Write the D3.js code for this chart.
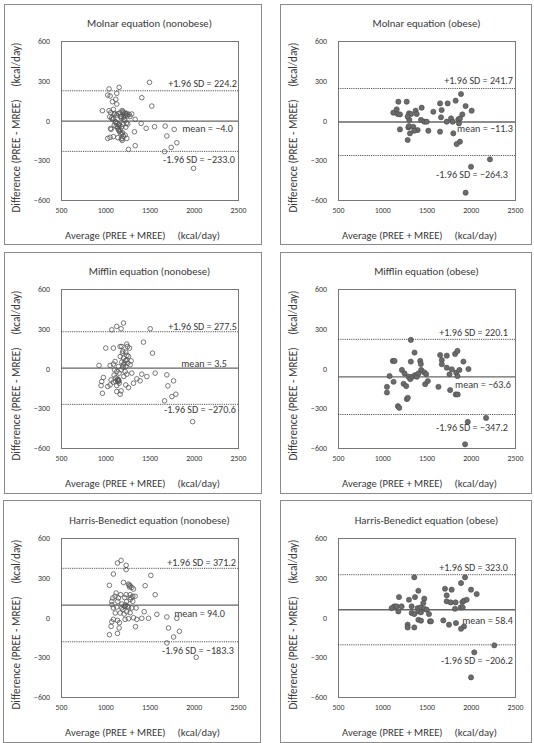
<!DOCTYPE html>
<html><head><meta charset="utf-8">
<script src="https://cdn.jsdelivr.net/npm/d3@7"></script>
<style>
html,body{margin:0;padding:0;background:#fff;}
svg text{font-family:Carlito,Lato,"Liberation Sans",sans-serif;fill:#383838;}
</style></head>
<body><svg id="c" width="534" height="743"></svg>
<script>
const xTicks = [500, 1000, 1500, 2000, 2500];
const yTicks = [600, 300, 0, -300, -600];
const panelTitles = ["Molnar equation (nonobese)", "Molnar equation (obese)", "Mifflin equation (nonobese)", "Mifflin equation (obese)", "Harris-Benedict equation (nonobese)", "Harris-Benedict equation (obese)"];
const meanValues = [-4.0, -11.3, 3.5, -63.6, 94.0, 58.4];
const upperLimits = [224.2, 241.7, 277.5, 220.1, 371.2, 323.0];
const lowerLimits = [-233.0, -264.3, -270.6, -347.2, -183.3, -206.2];
const xTitle = "Average (PREE + MREE)     (kcal/day)";
const yTitle = "Difference (PREE - MREE)     (kcal/day)";

const molnarNonobese = [[1500,288],[1043,238],[1157,250],[1028,192],[1055,185],[1130,205],[1119,160],[1413,172],[1526,109],[1081,142],[1130,124],[968,74],[1043,74],[1062,59],[1092,84],[1111,49],[1130,41],[1168,59],[1206,59],[1225,54],[1243,54],[1270,46],[1300,49],[1338,9],[1179,29],[1081,9],[1119,-9],[1157,-27],[1142,-47],[1168,-72],[1194,-92],[1225,-110],[1066,-67],[1187,-47],[1255,-27],[1330,-85],[1028,-135],[1055,-127],[1092,-122],[1142,-130],[1194,-135],[1243,-135],[1262,-218],[1338,-190],[1406,-22],[1462,-59],[1557,-47],[1677,-42],[1779,-67],[1696,-117],[1809,-168],[1745,-203],[1670,-235],[1998,-361],[1100,50],[1145,52],[1190,75],[1200,68],[1172,30],[1182,18],[1205,24],[1212,8],[1050,28],[1072,20],[1093,12],[1112,-12],[1133,-20],[1152,-32],[1163,-40],[1102,-35],[1122,-45],[1140,-58],[1150,-72],[1160,-82],[1172,-95],[1190,-102],[1205,-118],[1232,-50],[1240,-20],[1200,-30],[1222,2],[1060,-60],[1180,-140],[1192,-150],[1230,40],[1235,48],[1250,35],[1280,30]];
const molnarObese = [[1182,142],[1276,142],[1125,59],[1163,84],[1174,49],[1200,46],[1445,97],[1302,54],[1325,49],[1377,74],[1389,49],[1306,4],[1287,29],[1438,4],[1475,-9],[1502,-9],[1577,66],[1653,129],[1671,79],[1739,129],[1664,24],[1728,-9],[1777,16],[1796,-9],[1829,150],[1890,200],[1942,109],[2010,74],[1860,9],[1878,16],[1905,46],[1867,-22],[1295,-52],[1302,-42],[1351,-47],[1200,-67],[1400,-72],[1313,-97],[1287,-147],[1362,-77],[1521,-77],[1653,-84],[1803,-97],[1878,-160],[1841,-178],[2217,-293],[2003,-349],[1942,-545]];
const mifflinNonobese = [[1206,343],[1130,318],[1074,292],[1179,300],[1508,300],[1432,199],[1534,116],[1006,154],[1092,154],[1168,166],[1187,166],[1243,184],[1251,166],[1274,154],[1194,116],[1232,123],[1262,91],[1206,78],[1243,66],[1292,58],[1187,48],[1111,53],[1092,33],[1055,23],[930,23],[1149,15],[1206,28],[1232,15],[1281,28],[1104,-10],[1130,-23],[1157,-35],[1225,-23],[1243,-43],[1300,-35],[979,-68],[960,-98],[953,-129],[1028,-136],[968,-187],[1066,-86],[1092,-103],[1119,-98],[1149,-93],[1157,-111],[1055,-124],[1130,-129],[1130,-174],[1179,-169],[1168,-194],[1232,-124],[1262,-144],[1319,-111],[1357,-78],[1394,-93],[1413,-43],[1470,-61],[1564,-35],[1696,-48],[1708,-131],[1772,-93],[1798,-194],[1753,-212],[1670,-244],[1987,-401],[1140,-85],[1150,-88],[1145,-80],[1155,-95],[1120,-70],[1100,-50],[1180,-10],[1200,10],[1215,40],[1230,60],[1245,100],[1200,130],[1170,90],[1255,40],[1210,-60]];
const mifflinObese = [[1323,216],[1120,57],[1139,57],[1365,120],[1323,52],[1429,57],[1436,34],[1654,102],[1673,64],[1673,32],[1729,97],[1823,110],[1850,133],[1917,52],[1974,-4],[1729,6],[1786,-6],[1760,-44],[1835,-31],[1850,-57],[1872,-11],[1767,-163],[1830,-196],[1853,-196],[1635,-138],[1083,-57],[1053,-138],[1053,-181],[1128,-100],[1222,-11],[1252,-37],[1241,-115],[1271,-133],[1278,-231],[1289,-221],[1177,-284],[1192,-297],[1297,-62],[1316,-80],[1342,-62],[1372,-49],[1391,-62],[1410,-37],[1440,-11],[1474,-29],[1496,-42],[1485,-118],[1515,-95],[1966,-403],[2173,-373],[1936,-572]];
const hbNonobese = [[1179,431],[1138,411],[1236,394],[1236,361],[1092,328],[1515,318],[1047,243],[1206,265],[1262,252],[1281,240],[1300,227],[1319,215],[1451,240],[1564,172],[1123,185],[1175,172],[1111,160],[1085,147],[1149,147],[1236,172],[1281,172],[1311,160],[1338,160],[1074,122],[1141,122],[1187,102],[1243,122],[1281,135],[1311,122],[1074,97],[1092,72],[1130,79],[1187,72],[1224,84],[1262,77],[1300,72],[1349,72],[1113,34],[1168,34],[1213,26],[1243,44],[1281,36],[1224,-14],[1262,-9],[1092,-14],[1138,-22],[1074,-32],[1160,-39],[1066,-67],[1157,-79],[1047,-130],[1138,-120],[1319,-2],[1357,-14],[1413,-6],[1440,44],[1489,-6],[1583,24],[1696,4],[1809,-6],[1715,-79],[1838,-104],[1772,-147],[1696,-192],[1342,-69],[2028,-300],[1270,245],[1275,230],[1215,85],[1200,60],[1230,95],[1250,85],[1290,150],[1220,150]];
const hbObese = [[1709,217],[1784,210],[1890,260],[1935,303],[2003,210],[2067,177],[1728,167],[1728,122],[1773,114],[1829,114],[1905,117],[1924,127],[1954,134],[1886,76],[1909,76],[1822,66],[1833,-42],[1924,-67],[1890,-85],[1189,154],[1302,134],[1370,154],[1408,202],[1475,142],[1464,109],[1362,303],[1136,84],[1163,84],[1182,46],[1219,84],[1332,84],[1400,71],[1434,76],[1475,66],[1502,59],[1332,34],[1362,26],[1408,46],[1438,39],[1528,26],[1408,-17],[1438,-24],[1539,-29],[1551,-29],[1287,-54],[1287,-75],[1362,-75],[1690,-22],[1754,-54],[1106,71],[2266,-210],[2040,-263],[2003,-452]];

const seriesList = [molnarNonobese, molnarObese, mifflinNonobese, mifflinObese, hbNonobese, hbObese];

// layout (positions / styles)
const layout = [
  {frame:[4,4,261,244],   plot:[61,41,238,200],  filled:false, lab:{up:[-1,-7],mean:[-5,7],low:[-3,8]}},
  {frame:[280,4,531,244], plot:[338,41,515,200], filled:true,  lab:{up:[-2,-8.5],mean:[-2,6],low:[-7,18.5]}},
  {frame:[4,252,261,493], plot:[61,289,238,448], filled:false, lab:{up:[-1,-5],mean:[-11,-5],low:[-2,5]}},
  {frame:[280,252,531,493],plot:[338,289,515,448],filled:true, lab:{up:[-7,-7],mean:[-4,8],low:[-7,13]}},
  {frame:[3,500,260,742], plot:[61,538,238,697], filled:false, lab:{up:[-2,-6],mean:[-13,8],low:[-4,8.6]}},
  {frame:[280,500,531,742],plot:[338,538,515,697],filled:true, lab:{up:[-7,-7],mean:[-2,11],low:[-2,15.6]}}
];
const fitTargets = {title: 125, xt: 155, yt: 170, ann: 69, tick: 16};

const svg = d3.select("#c");
const fmt = d3.format(".1f");

layout.forEach((L, i) => {
  const [fx0, fy0, fx1, fy1] = L.frame;
  const [px0, py0, px1, py1] = L.plot;
  const g = svg.append("g");
  g.append("rect").attr("x", fx0 + 0.5).attr("y", fy0 + 0.5)
    .attr("width", fx1 - fx0).attr("height", fy1 - fy0)
    .attr("fill", "none").attr("stroke", "#8a8a8a").attr("stroke-width", 1);

  const x = d3.scaleLinear().domain([500, 2500]).range([px0, px1]);
  const y = d3.scaleLinear().domain([-600, 600]).range([py1, py0]);

  const ax = g.append("g").attr("transform", `translate(0,${py1})`)
    .call(d3.axisBottom(x).tickValues(xTicks).tickSize(0).tickPadding(7).tickFormat(d3.format("d")));
  ax.select(".domain").remove();
  ax.selectAll("text").attr("class", "tick-l").attr("font-size", 7.5).attr("fill", "#1e1e1e").attr("font-family", null);
  const ay = g.append("g").attr("transform", `translate(${px0},0)`)
    .call(d3.axisLeft(y).tickValues(yTicks).tickSize(0).tickPadding(11).tickFormat(d3.format("d")));
  ay.select(".domain").remove();
  ay.selectAll("text").attr("class", "tick-l").attr("font-size", 7.5).attr("fill", "#1e1e1e").attr("font-family", null);

  g.append("rect").attr("x", px0 + 0.5).attr("y", py0 + 0.5)
    .attr("width", px1 - px0).attr("height", py1 - py0)
    .attr("fill", "none").attr("stroke", "#777").attr("stroke-width", 1);

  g.append("line").attr("x1", px0).attr("x2", px1)
    .attr("y1", y(meanValues[i])).attr("y2", y(meanValues[i]))
    .attr("stroke", "#666").attr("stroke-width", 1.3);
  [upperLimits[i], lowerLimits[i]].forEach(v => {
    g.append("line").attr("x1", px0).attr("x2", px1)
      .attr("y1", y(v)).attr("y2", y(v))
      .attr("stroke", "#444").attr("stroke-width", 0.9).attr("stroke-dasharray", "1.2,1");
  });

  g.append("g").selectAll("circle").data(seriesList[i]).join("circle")
    .attr("cx", d => x(d[0])).attr("cy", d => y(d[1])).attr("r", L.filled ? 2.6 : 2.3)
    .attr("fill", L.filled ? "#6b6b6b" : "none")
    .attr("stroke", L.filled ? "#4a4a4a" : "#555").attr("stroke-width", L.filled ? 0.6 : 0.8);

  const ann = [
    ["+1.96 SD = " + fmt(upperLimits[i]), upperLimits[i], L.lab.up],
    ["mean = " + fmt(meanValues[i]), meanValues[i], L.lab.mean],
    ["-1.96 SD = " + fmt(lowerLimits[i]), lowerLimits[i], L.lab.low]
  ];
  ann.forEach(([t, v, off], k) => {
    g.append("text").attr("class", "ann" + (i === 0 && k === 0 ? " ref-ann" : ""))
      .attr("x", px1 + off[0]).attr("y", y(v) + off[1]).attr("dy", "0.35em")
      .attr("text-anchor", "end").attr("font-size", 9.5).text(t);
  });

  const cx = (px0 + px1) / 2;
  g.append("text").attr("class", "title" + (i === 0 ? " ref-title" : ""))
    .attr("x", cx).attr("y", py0 - 14).attr("text-anchor", "middle")
    .attr("font-size", 10.5).text(panelTitles[i]);
  g.append("text").attr("class", "xt" + (i === 0 ? " ref-xt" : ""))
    .attr("x", cx - 7).attr("y", py1 + 39).attr("text-anchor", "middle")
    .attr("font-size", 10.5).style("white-space", "pre").text(xTitle);
  const ycy = (py0 + py1) / 2 + 7;
  g.append("text").attr("class", "yt" + (i === 0 ? " ref-yt" : ""))
    .attr("transform", `translate(${px0 - 41},${ycy}) rotate(-90)`)
    .attr("text-anchor", "middle").attr("font-size", 10.5).style("white-space", "pre").text(yTitle);
});

function fitClass(cls, refNode, target) {
  const fs = +d3.select(refNode).attr("font-size");
  const w = refNode.getComputedTextLength();
  if (w > 0) svg.selectAll("." + cls).attr("font-size", fs * target / w);
}
fitClass("title", svg.select(".ref-title").node(), fitTargets.title);
fitClass("xt", svg.select(".ref-xt").node(), fitTargets.xt);
fitClass("yt", svg.select(".ref-yt").node(), fitTargets.yt);
fitClass("ann", svg.select(".ref-ann").node(), fitTargets.ann);
const tickRef = svg.selectAll(".tick-l").filter(function(){ return this.textContent === "1000"; }).node();
fitClass("tick-l", tickRef, fitTargets.tick);
</script></body></html>
